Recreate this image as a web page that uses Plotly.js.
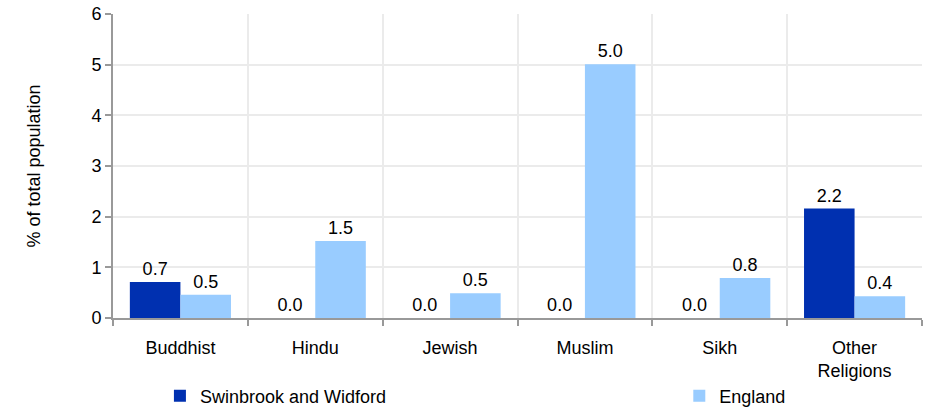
<!DOCTYPE html>
<html>
<head>
<meta charset="utf-8">
<script src="https://cdn.plot.ly/plotly-3.0.1.min.js"></script>
<style>
html,body{margin:0;padding:0;background:#fff;}
#chart{width:926px;height:409px;}
</style>
</head>
<body>
<div id="chart"></div>
<script>
var categories = ["Buddhist", "Hindu", "Jewish", "Muslim", "Sikh", "Other<br>Religions"];
var swinbrook = [0.71, 0.0, 0.0, 0.0, 0.0, 2.16];
var england = [0.46, 1.52, 0.49, 5.01, 0.79, 0.43];
var seriesNames = ["Swinbrook and Widford", "England"];

var font = {family: "Liberation Sans, Arial, sans-serif", size: 18, color: "#000"};

var traces = [
  {type: "bar", name: seriesNames[0], x: categories, y: swinbrook, legend: "legend",
   marker: {color: "#0030B0"}, texttemplate: "%{y:.1f}", textposition: "outside",
   textfont: font, cliponaxis: false, hoverinfo: "none"},
  {type: "bar", name: seriesNames[1], x: categories, y: england, legend: "legend2",
   marker: {color: "#99CCFF"}, texttemplate: "%{y:.1f}", textposition: "outside",
   textfont: font, cliponaxis: false, hoverinfo: "none"}
];

var layout = {
  width: 926, height: 409,
  margin: {l: 113, r: 4, t: 14, b: 91, autoexpand: false},
  paper_bgcolor: "#fff", plot_bgcolor: "#fff",
  font: font,
  barmode: "group", bargap: 0.25, bargroupgap: 0,
  showlegend: true,
  legend: {orientation: "h", x: 0.058, xanchor: "left", y: -0.196, yanchor: "top", font: font},
  legend2: {orientation: "h", x: 0.7, xanchor: "left", y: -0.196, yanchor: "top", font: font},
  xaxis: {type: "category", tickson: "boundaries", ticks: "outside", ticklen: 6,
          tickcolor: "#999", tickwidth: 2, showline: true, linecolor: "#999", linewidth: 2,
          showgrid: true, gridcolor: "#ebebeb", gridwidth: 2, tickfont: font, automargin: false,
          ticklabelstandoff: 12},
  yaxis: {range: [0, 6], dtick: 1, tick0: 0, ticks: "outside", ticklen: 6, tickcolor: "#999", tickwidth: 2,
          showline: true, linecolor: "#999", linewidth: 2, showgrid: true, gridcolor: "#ebebeb", gridwidth: 2,
          zeroline: false, tickfont: font, automargin: false,
          title: {text: "% of total population", font: font, standoff: 46}}
};

Plotly.newPlot("chart", traces, layout, {staticPlot: true});
</script>
</body>
</html>
